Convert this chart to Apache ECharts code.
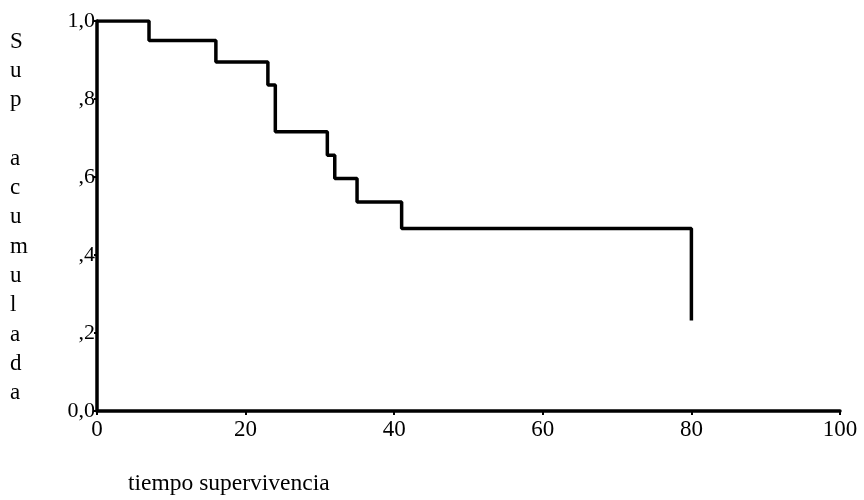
<!DOCTYPE html>
<html>
<head>
<meta charset="utf-8">
<script src="https://cdn.jsdelivr.net/npm/echarts@6/dist/echarts.min.js"></script>
<style>
  html, body { margin: 0; padding: 0; background: #fff; }
  #chart { width: 864px; height: 500px; }
</style>
</head>
<body>
<div id="chart"></div>
<script>
// Kaplan-Meier step curve: time of each drop and survival after it
const times = [0, 7, 16, 23, 24, 31, 32, 35, 41, 80];
const survival = [1.0, 0.95, 0.895, 0.836, 0.716, 0.656, 0.596, 0.536, 0.468, 0.232];
const xTicks = [0, 20, 40, 60, 80, 100];
const yTickLabels = { '0': '0,0', '0.2': ',2', '0.4': ',4', '0.6': ',6', '0.8': ',8', '1': '1,0' };
const yTitle = ['S', 'u', 'p', '', 'a', 'c', 'u', 'm', 'u', 'l', 'a', 'd', 'a'];
const xTitle = 'tiempo supervivencia';

const font = '"Liberation Serif", "DejaVu Serif", serif';
const chart = echarts.init(document.getElementById('chart'), null, { renderer: 'canvas' });

chart.setOption({
  animation: false,
  backgroundColor: '#fff',
  grid: { left: 97, right: 24, top: 21, bottom: 89 },
  xAxis: {
    type: 'value',
    min: 0, max: 100, interval: 20,
    axisLine: { lineStyle: { color: '#000', width: 3.5 } },
    axisTick: { show: true, length: 4, lineStyle: { color: '#000', width: 2 } },
    axisLabel: { color: '#000', fontFamily: font, fontSize: 23, margin: 7 },
    splitLine: { show: false }
  },
  yAxis: {
    type: 'value',
    min: 0, max: 1, interval: 0.2,
    axisLine: { show: true, lineStyle: { color: '#000', width: 3.5 } },
    axisTick: { show: true, length: 3, lineStyle: { color: '#000', width: 2 } },
    axisLabel: {
      color: '#000', fontFamily: font, fontSize: 22, margin: 2,
      formatter: v => yTickLabels[String(+v.toFixed(1))] || ''
    },
    splitLine: { show: false }
  },
  graphic: [
    {
      type: 'text', left: 10, top: 27,
      style: {
        text: yTitle.join('\n'), fill: '#000', font: '23px ' + font,
        lineHeight: 29.3, align: 'center'
      }
    },
    {
      type: 'text', left: 128, top: 472,
      style: { text: xTitle, fill: '#000', font: '23.5px ' + font }
    }
  ],
  series: [{
    type: 'line',
    step: 'end',
    data: times.map((t, i) => [t, survival[i]]),
    symbol: 'none',
    lineStyle: { color: '#000', width: 3.5 }
  }]
});
</script>
</body>
</html>
